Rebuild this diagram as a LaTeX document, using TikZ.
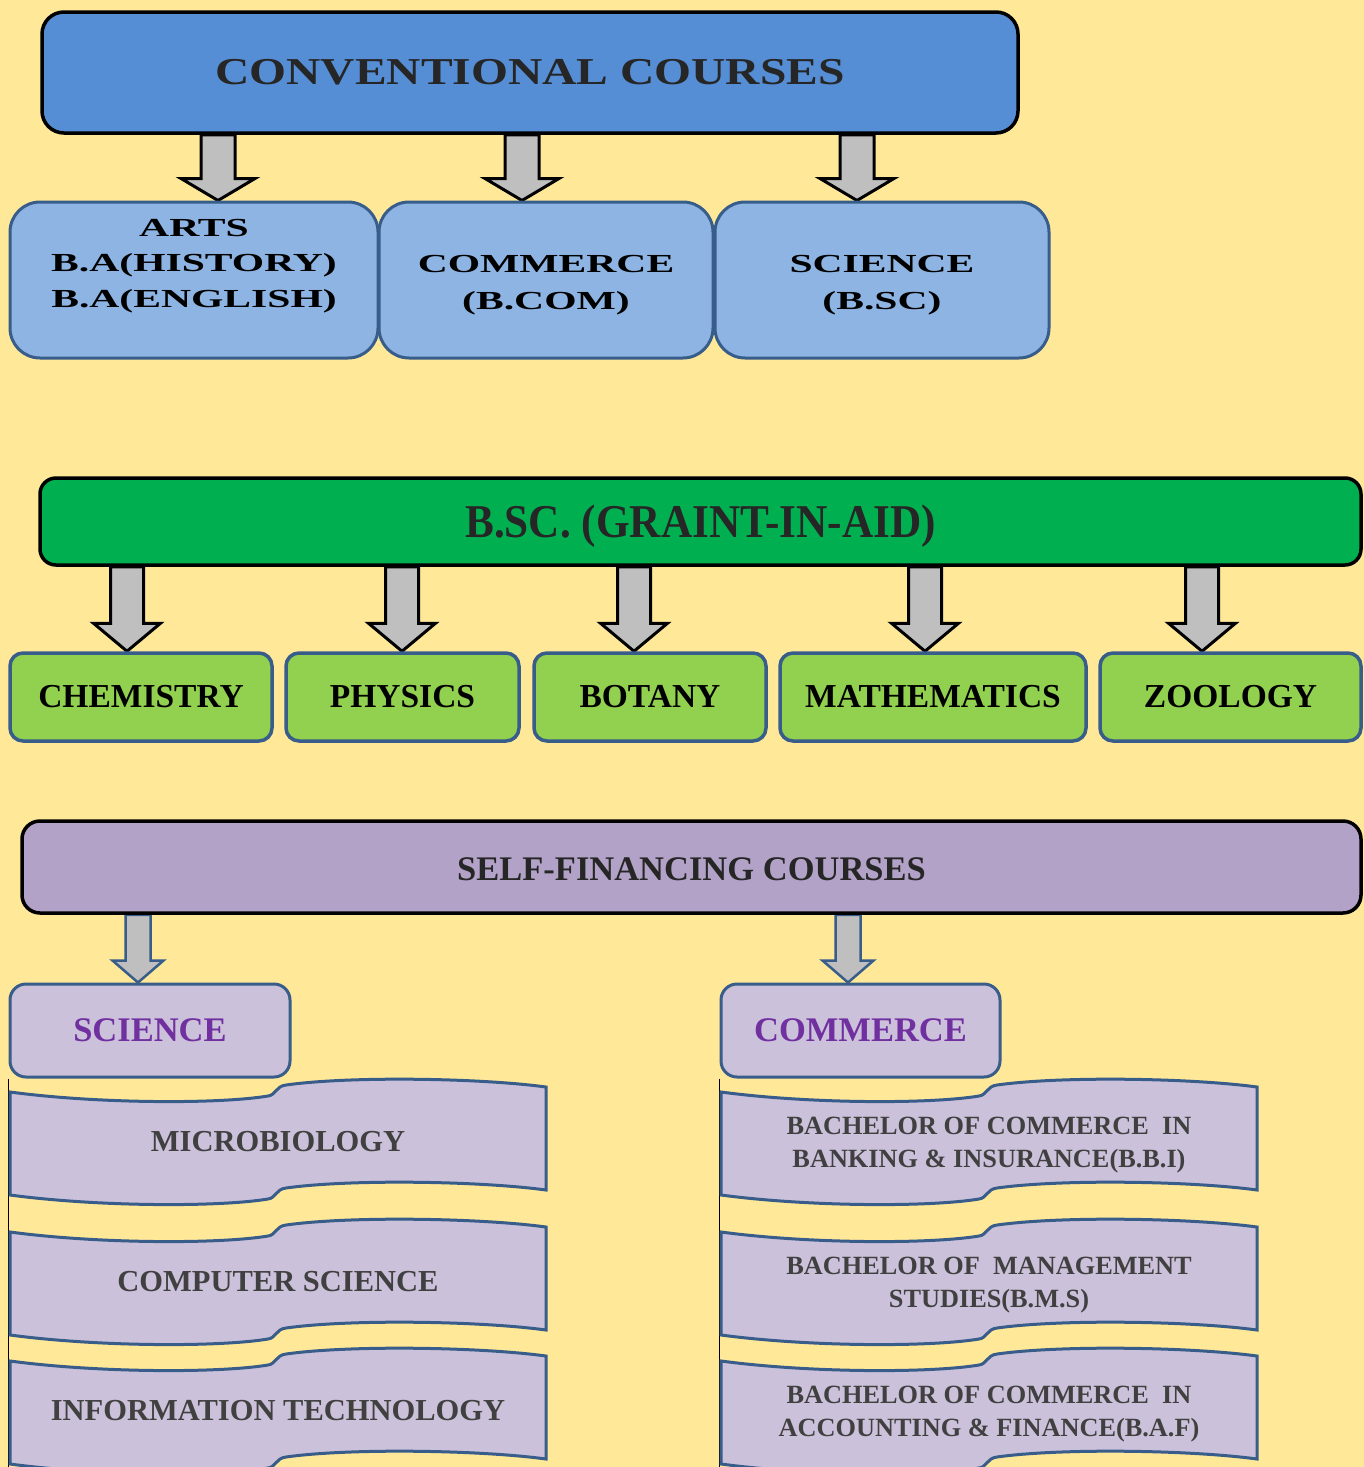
\documentclass[tikz,border=0pt]{standalone}
\usepackage{fontspec}
\setmainfont{Liberation Serif}
\usepackage{graphicx}
\usetikzlibrary{backgrounds,calc}

\definecolor{paper}{HTML}{FFE999}
\definecolor{convblue}{HTML}{558ED5}
\definecolor{lightblue}{HTML}{8DB4E2}
\definecolor{edgeblue}{HTML}{385D8A}
\definecolor{grantgreen}{HTML}{00B050}
\definecolor{subjgreen}{HTML}{92D050}
\definecolor{selfpurple}{HTML}{B3A2C7}
\definecolor{lilac}{HTML}{CCC1DA}
\definecolor{deeppurple}{HTML}{7030A0}
\definecolor{arrowgray}{HTML}{BFBFBF}
\definecolor{inkgray}{HTML}{404040}

\newcommand{\wide}[2][1.6]{\scalebox{#1}[1]{#2}}
\newcommand{\sinktext}[2][4pt]{\raisebox{-#1}[\height][\depth]{#2}}
% style, from, to, half shaft, half head, head length
\newcommand{\fatarrow}[6]{%
  \filldraw[#1] let \p1=(#2), \p2=(#3) in
    (\x1-#4pt,\y1) -- (\x1-#4pt,\y2+#6pt) -- (\x1-#5pt,\y2+#6pt) -- (\x1,\y2)
    -- (\x1+#5pt,\y2+#6pt) -- (\x1+#4pt,\y2+#6pt) -- (\x1+#4pt,\y1) -- cycle;}
% text options, name, left x, top y, text
\newcommand{\banner}[5][]{%
  \begin{scope}[shift={(#3,#4)}]
    \draw[bannerbox] (0,0) .. controls (90,12) and (210,12) .. (258,4)
      .. controls (266,3) and (266,-6) .. (276,-7)
      .. controls (340,-16) and (470,-14) .. (536,-5) -- (536,98)
      .. controls (470,89) and (340,87) .. (276,96)
      .. controls (266,97) and (266,106) .. (258,107)
      .. controls (210,115) and (90,115) .. (0,103) -- cycle;
    \node[bannertext,#1] (#2) at (268,50) {#5};
  \end{scope}}

\begin{document}
\begin{tikzpicture}[x=1pt,y=-1pt,inner sep=0pt,
    convbox/.style={draw=black,line width=3.5pt,fill=convblue,rounded corners=22pt,
      font=\fontsize{38}{44}\selectfont\bfseries,text=black!85},
    streambox/.style={draw=edgeblue,line width=3pt,fill=lightblue,rounded corners=30pt,
      minimum height=156pt,font=\fontsize{26}{37}\selectfont\bfseries},
    granthead/.style={draw=black,line width=3.5pt,fill=grantgreen,rounded corners=16pt,
      font=\fontsize{47}{54}\selectfont\bfseries,text=black!85},
    subjbox/.style={draw=edgeblue,line width=3.5pt,fill=subjgreen,rounded corners=13pt,
      minimum height=88pt,font=\fontsize{33.5}{38}\selectfont\bfseries},
    selfhead/.style={draw=black,line width=3.5pt,fill=selfpurple,rounded corners=18pt,
      font=\fontsize{34.5}{40}\selectfont\bfseries,text=black!85},
    branchbox/.style={draw=edgeblue,line width=3pt,fill=lilac,rounded corners=16pt,
      minimum height=93pt,font=\fontsize{34.5}{40}\selectfont\bfseries,text=deeppurple},
    bannerbox/.style={draw=edgeblue,line width=3pt,fill=lilac},
    bannertext/.style={align=center,text=inkgray,font=\fontsize{30.5}{33}\selectfont\bfseries},
    blackarrow/.style={draw=black,line width=3pt,fill=arrowgray},
    bluearrow/.style={draw=edgeblue,line width=2.5pt,fill=arrowgray}]
  \useasboundingbox (0,0) rectangle (1364,1467);
  \begin{scope}[on background layer]
    \fill[paper] (0,0) rectangle (1364,1467);
  \end{scope}
  \coordinate (bottom) at (0,1467);

  % conventional courses
  \node[convbox,minimum width=976pt,minimum height=121pt] (conv) at (530,72.5) {\wide[1.25]{CONVENTIONAL COURSES}};
  \node[streambox,minimum width=368pt] (arts) at (194,280) {};
  \node[font=\fontsize{26}{35.5}\selectfont\bfseries] (artstext) at (194,264.5)
    {\wide{\begin{tabular}{@{}c@{}}ARTS\\B.A(HISTORY)\\B.A(ENGLISH)\end{tabular}}};
  \node[streambox,minimum width=334pt] (comm) at (546,280) {\sinktext{\wide{\begin{tabular}{@{}c@{}}COMMERCE\\(B.COM)\end{tabular}}}};
  \node[streambox,minimum width=334pt] (sci) at (882,280) {\sinktext{\wide{\begin{tabular}{@{}c@{}}SCIENCE\\(B.SC)\end{tabular}}}};

  % grant-in-aid
  \node[granthead,minimum width=1321pt,minimum height=87pt] (grant) at (700.5,521.5) {\sinktext[5pt]{\wide[0.92]{B.SC. (GRAINT-IN-AID)}}};
  \node[subjbox,minimum width=262pt] (chem) at (141,697) {CHEMISTRY};
  \node[subjbox,minimum width=233pt] (phys) at (402.5,697) {PHYSICS};
  \node[subjbox,minimum width=232pt] (bot) at (650,697) {BOTANY};
  \node[subjbox,minimum width=306pt] (math) at (933,697) {MATHEMATICS};
  \node[subjbox,minimum width=261pt] (zoo) at (1230.5,697) {ZOOLOGY};

  % self-financing
  \node[selfhead,minimum width=1339pt,minimum height=92pt] (self) at (691.5,867) {\sinktext[2pt]{SELF-FINANCING COURSES}};
  \node[branchbox,minimum width=280pt] (ssci) at (150,1030.5) {SCIENCE};
  \node[branchbox,minimum width=279pt] (scom) at (860.5,1030.5) {COMMERCE};
  \draw[line width=1.5pt] (ssci.south west) -- (ssci.south west |- bottom);
  \draw[line width=1.5pt] (scom.south west) -- (scom.south west |- bottom);

  \banner{micro}{10}{1092}{MICROBIOLOGY}
  \banner{cs}{10}{1232}{COMPUTER SCIENCE}
  \banner{it}{10}{1361}{INFORMATION TECHNOLOGY}
  \banner[font=\fontsize{26.3}{33}\selectfont\bfseries,yshift=-3pt]{bbi}{721}{1092}{BACHELOR OF COMMERCE\ \ IN\\BANKING \& INSURANCE(B.B.I)}
  \banner[font=\fontsize{26.3}{33}\selectfont\bfseries,yshift=-3pt]{bms}{721}{1232}{BACHELOR OF\ \ MANAGEMENT\\STUDIES(B.M.S)}
  \banner[font=\fontsize{26.3}{33}\selectfont\bfseries,yshift=-3pt]{baf}{721}{1361}{BACHELOR OF COMMERCE\ \ IN\\ACCOUNTING \& FINANCE(B.A.F)}

  % block arrows
  \begin{scope}[on background layer]
    \foreach \ax/\child in {218/arts,522/comm,857/sci}{
      \coordinate (ax) at (\ax,0);
      \fatarrow{blackarrow}{ax |- conv.south}{ax |- \child.north}{17}{37}{22}}
    \foreach \ax/\child in {127/chem,402/phys,634/bot,925/math,1202/zoo}{
      \coordinate (ax) at (\ax,0);
      \fatarrow{blackarrow}{ax |- grant.south}{ax |- \child.north}{16.5}{33.5}{28}}
    \foreach \ax/\child in {138/ssci,848/scom}{
      \coordinate (ax) at (\ax,0);
      \fatarrow{bluearrow}{ax |- self.south}{ax |- \child.north}{12.5}{25.5}{22}}
  \end{scope}
\end{tikzpicture}
\end{document}
